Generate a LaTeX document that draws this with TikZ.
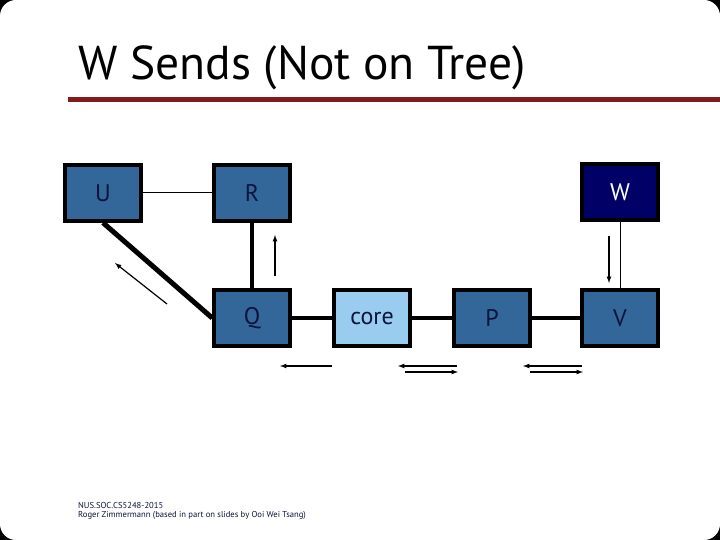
\documentclass[tikz,border=0pt]{standalone}
\usepackage{fontspec}
\setmainfont{PT Sans}
\usetikzlibrary{arrows}
\definecolor{slidered}{RGB}{130,28,28}
\definecolor{boxblue}{RGB}{51,102,153}
\definecolor{coreblue}{RGB}{153,204,238}
\definecolor{rootnavy}{RGB}{0,0,102}
\definecolor{textnavy}{RGB}{10,20,60}
\tikzset{
      router/.style={draw=black, fill=boxblue, line width=3.5, minimum width=76, minimum height=56,
            text=textnavy, font=\fontsize{24}{28}\selectfont},
      corebox/.style={router, fill=coreblue},
      rootbox/.style={router, fill=rootnavy, text=white},
      link/.style={draw=black, line width=1},
      treelink/.style={draw=black, line width=4},
      msg/.style={draw=black, line width=1.2, -latex},
}

\begin{document}
\begin{tikzpicture}[x=1pt, y=-1pt]
        % slide background
        \fill[black] (0,0) rectangle (720,540);
        \fill[white, rounded corners=16] (0,0) rectangle (720,540);
        \useasboundingbox (0,0) rectangle (720,540);

        % Title and rule
        \node[anchor=base west, inner sep=0, font=\fontsize{47.5}{52}\selectfont] (title) at (78,80) {W Sends (Not on Tree)};
        \fill[slidered] (68,97) rectangle (720,102);

        % Draw the routers
        \node[router] (U) at (103,193) {U};
        \node[router] (R) at (252,193) {R};
        \node[router] (Q) at (252,318) {Q};
        \node[corebox] (core) at (372,318) {core};
        \node[router] (P) at (492,318) {P};
        \node[router] (V) at (620,318) {V};
        \node[rootbox] (W) at (620,192) {W};

        % Draw the links
        \draw[link] (U) -- (R);
        \draw[link] (W) -- (V);
        \draw[treelink, line width=5] (U.south) -- (Q.west);
        \draw[treelink] (R) -- (Q);
        \draw[treelink] (Q) -- (core);
        \draw[treelink] (core) -- (P);
        \draw[treelink] (P) -- (V);

        % Draw the messages
        \coordinate (wv1) at (609,236);  \coordinate (wv2) at (609,283);
        \coordinate (qr1) at (275,276);  \coordinate (qr2) at (275,235);
        \coordinate (qu1) at (167,304);  \coordinate (qu2) at (115,263);
        \draw[msg] (wv1) -- (wv2);
        \draw[msg] (qr1) -- (qr2);
        \draw[msg] (qu1) -- (qu2);

        \coordinate (cq1) at (332,366);  \coordinate (cq2) at (280,366);
        \coordinate (pc1) at (457,366);  \coordinate (pc2) at (398,366);
        \coordinate (cp1) at (405,372);  \coordinate (cp2) at (458,372);
        \coordinate (vp1) at (582,366);  \coordinate (vp2) at (523,366);
        \coordinate (pv1) at (530,372);  \coordinate (pv2) at (583,372);
        \draw[msg] (cq1) -- (cq2);
        \draw[msg] (pc1) -- (pc2);
        \draw[msg] (cp1) -- (cp2);
        \draw[msg] (vp1) -- (vp2);
        \draw[msg] (pv1) -- (pv2);

        % Footer
        \node[anchor=base west, inner sep=0, align=left, text=textnavy, font=\fontsize{8.6}{8.2}\selectfont] (foot) at (78,517)
            {NUS.SOC.CS5248-2015\\Roger Zimmermann (based in part on slides by Ooi Wei Tsang)};

    \end{tikzpicture}
\end{document}
